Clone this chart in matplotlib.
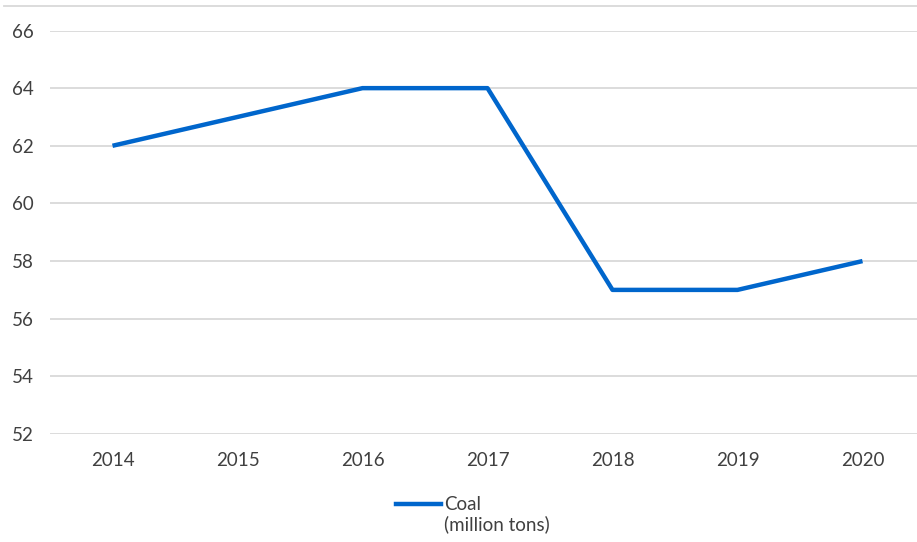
import matplotlib.pyplot as plt
from matplotlib.lines import Line2D

plt.rcParams['font.family'] = ['Lato', 'DejaVu Sans']

years = ['2014', '2015', '2016', '2017', '2018', '2019', '2020']
coal = [62, 63, 64, 64, 57, 57, 58]
yticks = [52, 54, 56, 58, 60, 62, 64, 66]
series_name = 'Coal'
series_unit = '(million tons)'

W, H = 917, 542
fig = plt.figure(figsize=(W / 100, H / 100), dpi=100)
# plot area runs a bit past the right edge (cropped original)
ax = fig.add_axes([50 / W, 1 - 434 / H, 875 / W, (434 - 30.5) / H])

line_color = '#0066CC'
text_color = '#404040'
ax.plot(range(len(years)), coal, color=line_color, lw=3.2, solid_capstyle='butt')

ax.set_xlim(-0.5, len(years) - 0.5)
ax.set_ylim(52, 66)
ax.set_yticks(yticks)
ax.set_xticks(range(len(years)))
ax.set_xticklabels(years)
ax.grid(axis='y', color='#d9d9d9', lw=1.3)
ax.set_axisbelow(True)
for s in ax.spines.values():
    s.set_visible(False)
ax.tick_params(length=0, labelsize=13.5, labelcolor=text_color)
ax.tick_params(axis='y', pad=12)
ax.tick_params(axis='x', pad=13)

# thin frame line at the top
fig.add_artist(Line2D([4 / W, 1], [1 - 6 / H, 1 - 6 / H], color='#d9d9d9', lw=1.3))

# legend: handle lines up with the first line of the label
ly = 1 - 504 / H
fig.add_artist(Line2D([396 / W, 441 / W], [ly, ly], color=line_color, lw=3.2))
fig.text(444 / W, ly, series_name, fontsize=13.5, color=text_color, va='center')
fig.text(444 / W, 1 - 524 / H, series_unit, fontsize=13.5, color=text_color, va='center')

fig.savefig('out.png', dpi=100)
